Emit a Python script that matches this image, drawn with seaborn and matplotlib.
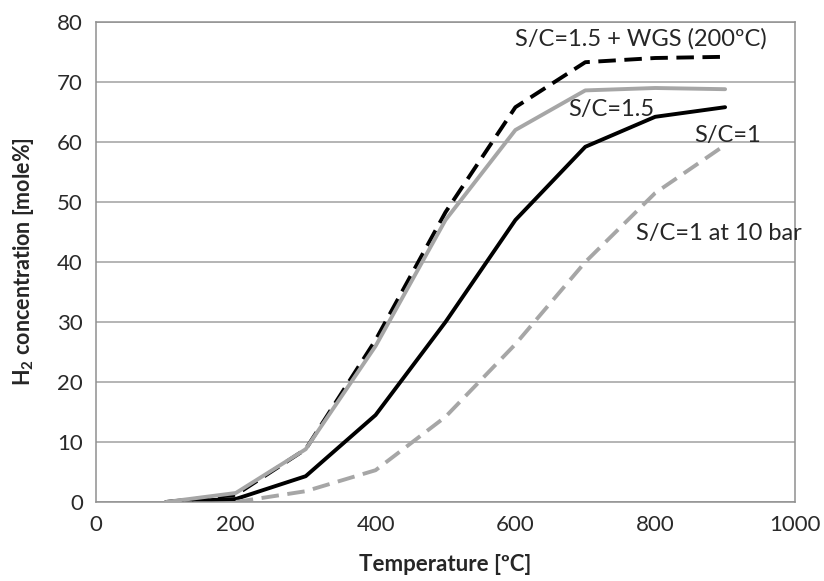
import pandas as pd
import numpy as np
import matplotlib
matplotlib.use("Agg")
import matplotlib.pyplot as plt
import seaborn as sns

# temperatures [C] and H2 concentration [mole%]
temp = [100, 200, 300, 400, 500, 600, 700, 800, 900]
temp_10bar = [200, 300, 400, 500, 600, 700, 800, 900]

sc15_wgs = [0, 1.2, 8.8, 27, 48.3, 65.8, 73.3, 74.0, 74.2]
sc15 = [0, 1.5, 8.8, 26, 47, 62, 68.6, 69.0, 68.8]
sc1 = [0, 0.5, 4.3, 14.5, 30, 47, 59.2, 64.2, 65.8]
sc1_10bar = [0, 1.8, 5.3, 14.2, 26.3, 40, 51.5, 59.5]

labels = ['S/C=1.5 + WGS (200ºC)', 'S/C=1.5', 'S/C=1', 'S/C=1 at 10 bar']

sns.set_style("white")
plt.rcParams['font.family'] = ['Lato', 'DejaVu Sans']
plt.rcParams['mathtext.fontset'] = 'custom'
plt.rcParams['mathtext.rm'] = 'Lato'
plt.rcParams['mathtext.bf'] = 'Lato:bold'

fig = plt.figure(figsize=(8.24, 5.81), dpi=100)
ax = fig.add_axes([96 / 824, 79 / 581, 699 / 824, 480 / 581])

grey = '#a6a6a6'
ax.yaxis.grid(True, color='#a0a0a0', lw=1.1, zorder=0)

sns.lineplot(x=temp, y=sc1, ax=ax, color='black', lw=2.8, zorder=2)
sns.lineplot(x=temp, y=sc15_wgs, ax=ax, color='black', lw=2.8, zorder=3)
ax.lines[-1].set_dashes([4.5, 2.2])
sns.lineplot(x=temp, y=sc15, ax=ax, color=grey, lw=2.8, zorder=4)
sns.lineplot(x=temp_10bar, y=sc1_10bar, ax=ax, color=grey, lw=2.8, zorder=2)
ax.lines[-1].set_dashes([4.5, 2.2])

ax.set_xlim(0, 1000)
ax.set_ylim(0, 80)
ax.set_xticks(np.arange(0, 1001, 200))
ax.set_yticks(np.arange(0, 81, 10))
ax.tick_params(axis='both', labelsize=16, labelcolor='#2a2a2a', color='#808080',
               direction='out', length=6, width=1.1, pad=3.5)
for s in ax.spines.values():
    s.set_color('#909090')
    s.set_linewidth(1.1)

ax.set_xlabel('Temperature [ºC]', fontsize=16, fontweight='bold', va='top')
ax.set_ylabel(r'H$_\mathbf{2}$ concentration [mole%]', fontsize=15.5,
              fontweight='bold')
ax.xaxis.set_label_coords(0.5, -0.108)
ax.yaxis.set_label_coords(-0.086, 0.5)

ax.text(599, 76.0, labels[0], fontsize=17, va='baseline', ha='left')
ax.text(675, 64.3, labels[1], fontsize=17, va='baseline', ha='left')
ax.text(856, 60.0, labels[2], fontsize=17, va='baseline', ha='left')
ax.text(773, 43.7, labels[3], fontsize=17, va='baseline', ha='left',
        clip_on=False)

fig.savefig('out.png', dpi=100)
